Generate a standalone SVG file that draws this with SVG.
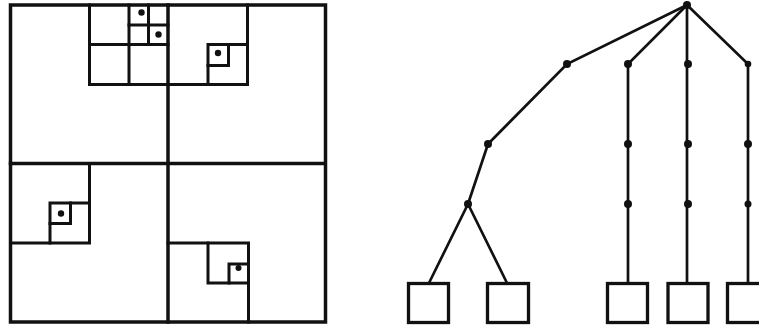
<svg xmlns="http://www.w3.org/2000/svg" width="759" height="327" viewBox="0 0 759 327">
<style>
.q{fill:none;stroke:#111;stroke-width:3.5;stroke-linecap:square}
.qi{fill:none;stroke:#111;stroke-width:3;stroke-linecap:square}
.pt{fill:#111}
.e{stroke:#111;stroke-width:2.7;fill:none}
.n{fill:#111}
.leaf{fill:#fff;stroke:#111;stroke-width:3.3}
</style>
<rect width="759" height="327" fill="#fff"/>
<g id="quadtree">
<rect class="q" x="10.5" y="5" width="315" height="317"/>
<path class="q" d="M168 5V322M10.5 163.5H325"/>
<path class="qi" d="M89.5 5V84.5H247.5V5"/>
<path class="qi" d="M89.5 44.5H168M129 5V84.5"/>
<path class="qi" d="M148.5 5V44.5M129 25H168"/>
<circle class="pt" cx="141.5" cy="12.5" r="3.2"/>
<circle class="pt" cx="158.5" cy="34.5" r="3.2"/>
<path class="qi" d="M208 84.5V44.5H247.5"/>
<path class="qi" d="M208 65.5H228.5V44.5"/>
<circle class="pt" cx="218" cy="53" r="3.2"/>
<path class="qi" d="M10.5 243H89.5V163.5"/>
<path class="qi" d="M50 243V203H89.5"/>
<path class="qi" d="M50 223.5H70.5V203"/>
<circle class="pt" cx="61" cy="213.5" r="3.2"/>
<path class="qi" d="M168 243H248.5V322"/>
<path class="qi" d="M208 243V283H248.5"/>
<path class="qi" d="M229 283V264H248.5"/>
<circle class="pt" cx="238.5" cy="268" r="3"/>
</g>
<g id="connectors">
<path class="e" d="M687 5L567 64L488 144L468 204"/>
<path class="e" d="M468 204L429 283M468 204L507 283"/>
<path class="e" d="M687 5L628 64V283"/>
<path class="e" d="M687 5V283"/>
<path class="e" d="M687 5L748 64V283"/>
</g>
<g id="root"><circle class="n" cx="687" cy="5" r="4"/></g>
<g id="n1"><circle class="n" cx="567" cy="64" r="4"/></g>
<g id="n2"><circle class="n" cx="628" cy="64" r="4"/></g>
<g id="n3"><circle class="n" cx="688" cy="64" r="4"/></g>
<g id="n4"><circle class="n" cx="748" cy="64" r="3.3"/></g>
<g id="n5"><circle class="n" cx="488" cy="144" r="4"/></g>
<g id="n6"><circle class="n" cx="628" cy="144" r="4"/></g>
<g id="n7"><circle class="n" cx="688" cy="144" r="4"/></g>
<g id="n8"><circle class="n" cx="748" cy="144" r="4"/></g>
<g id="n9"><circle class="n" cx="468" cy="204" r="4"/></g>
<g id="n10"><circle class="n" cx="628" cy="204" r="4"/></g>
<g id="n11"><circle class="n" cx="688" cy="204" r="4"/></g>
<g id="n12"><circle class="n" cx="748" cy="204" r="3.5"/></g>
<g id="leaf1"><rect class="leaf" x="408.5" y="283.5" width="40" height="39"/></g>
<g id="leaf2"><rect class="leaf" x="487.5" y="283.5" width="41" height="39"/></g>
<g id="leaf3"><rect class="leaf" x="607.5" y="283.5" width="40" height="39"/></g>
<g id="leaf4"><rect class="leaf" x="668" y="283.5" width="40" height="39"/></g>
<g id="leaf5"><rect class="leaf" x="727.5" y="283.5" width="41" height="39"/></g>
</svg>
